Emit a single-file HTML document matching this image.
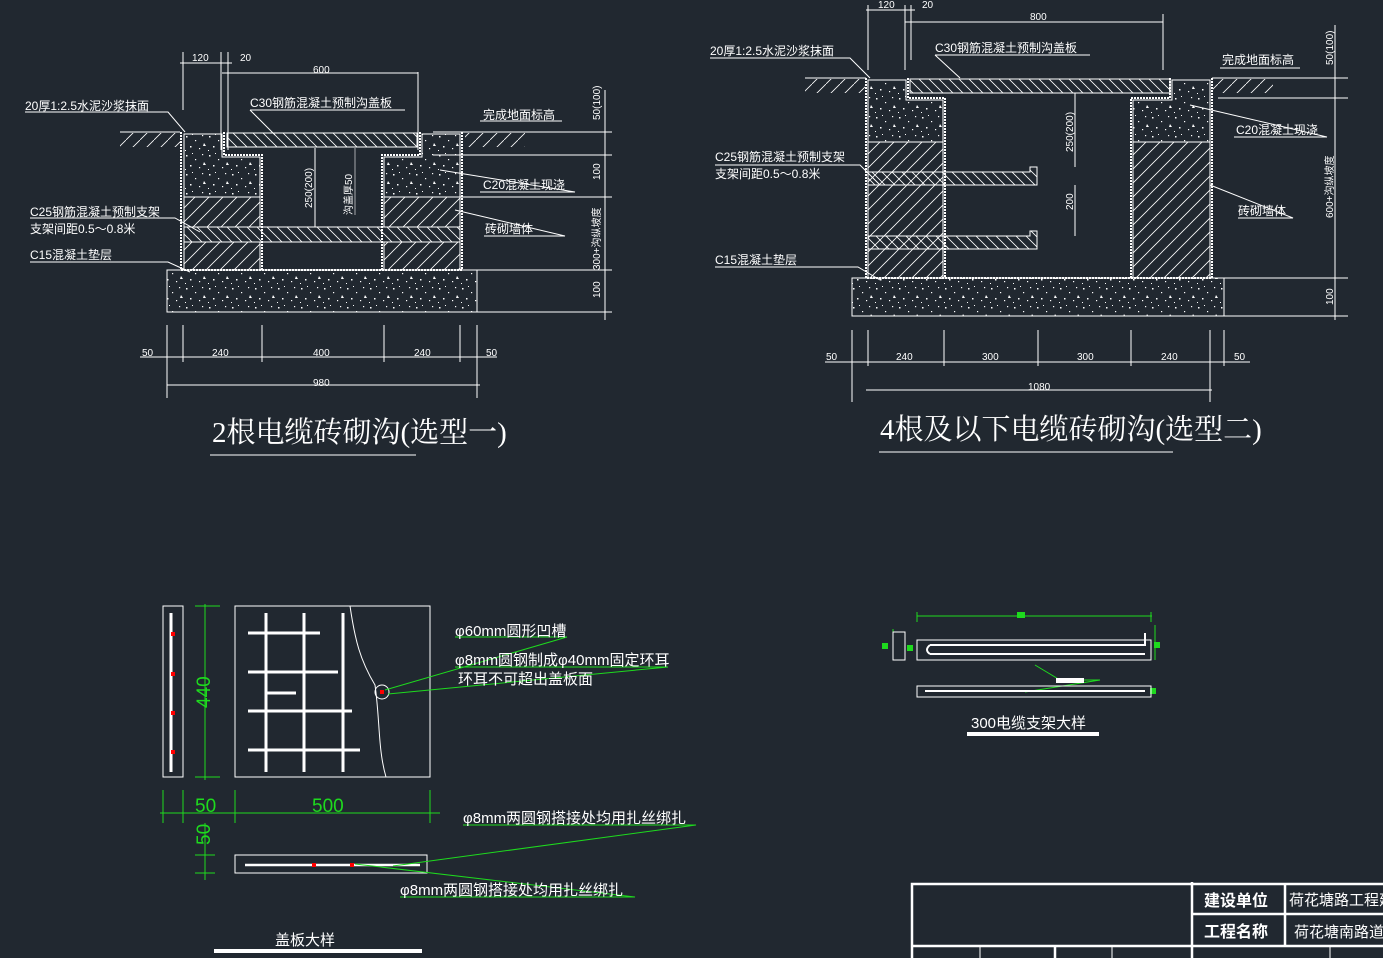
<!DOCTYPE html>
<html><head><meta charset="utf-8"><style>
html,body{margin:0;padding:0;background:#212830;}
svg{display:block}
text{font-family:"Liberation Sans","Noto Sans CJK SC",sans-serif;fill:#fff}
</style></head><body>
<svg width="1383" height="958" viewBox="0 0 1383 958" xmlns="http://www.w3.org/2000/svg">
<defs>
<pattern id="hat" width="14" height="14" patternUnits="userSpaceOnUse"><path d="M0 14L14 0M-2 2L2 -2M12 16L16 12" stroke="#fff" stroke-width="0.8"/></pattern>
<pattern id="hat2" width="10" height="10" patternUnits="userSpaceOnUse"><path d="M0 0L10 10M-2 8L2 12M8 -2L12 2" stroke="#fff" stroke-width="0.8"/></pattern>
<pattern id="dot" width="23" height="19" patternUnits="userSpaceOnUse"><g fill="#fff"><rect x="2" y="3" width="1.5" height="1.5"/><rect x="11" y="7" width="1.2" height="1.2"/><rect x="18" y="2" width="1.2" height="1.2"/><rect x="6" y="13" width="1.5" height="1.5"/><rect x="15" y="15" width="1.2" height="1.2"/><path d="M20 10l2 3h-3z"/><rect x="8" y="1" width="1" height="1"/><rect x="1" y="17" width="1" height="1"/></g></pattern>
<pattern id="gnd" width="14" height="14" patternUnits="userSpaceOnUse"><path d="M0 14L14 0" stroke="#fff" stroke-width="0.8"/></pattern>
</defs>
<g stroke="#fff" fill="none" stroke-width="1">
<rect x="120" y="133" width="60" height="14" fill="url(#gnd)" stroke="none"/>
<rect x="465" y="133" width="60" height="14" fill="url(#gnd)" stroke="none"/>
<line x1="120" y1="132" x2="180" y2="132"/><line x1="464" y1="132" x2="524" y2="132"/>
<rect x="167" y="270" width="310" height="42" fill="url(#dot)"/>
<path d="M181 132V270H462V132" stroke-width="2" stroke-dasharray="2 1"/>
<path d="M224 132V155H262V270M382 270V155H420V132" stroke-width="2" stroke-dasharray="2 1"/>
<path d="M184 134H222V157H260V197H184Z" fill="url(#dot)"/>
<path d="M460 134H422V157H384V197H460Z" fill="url(#dot)"/>
<rect x="184" y="197" width="76" height="30" fill="url(#hat)"/>
<rect x="384" y="197" width="76" height="30" fill="url(#hat)"/>
<rect x="184" y="242" width="76" height="28" fill="url(#hat)"/>
<rect x="384" y="242" width="76" height="28" fill="url(#hat)"/>
<rect x="184" y="227" width="276" height="15" fill="url(#hat2)"/>
<rect x="227" y="133" width="190" height="14" fill="url(#hat2)"/>
<line x1="315" y1="148" x2="315" y2="227"/><line x1="355" y1="148" x2="355" y2="215" stroke-width="0.6"/>
<path d="M183 52V110M221 52V150M228 52V150M418 72V150M180 63H232M222 73H418"/>
<path d="M167 325V398M183 325V362M262 325V362M384 325V362M460 325V362M477 325V398M140 357H497M167 385H480"/>
<path d="M433 132H612M433 155H612M430 197H612M430 270H612M430 312H612M605 90V320"/>
<path d="M25 112H168L185 132M250 110H405M250 110L275 135M480 121H562M480 192H575L440 170M484 236H565L455 210M30 218H175L200 232M30 262H168L190 272"/>
<rect x="805" y="79" width="60" height="14" fill="url(#gnd)" stroke="none"/>
<rect x="1213" y="79" width="60" height="14" fill="url(#gnd)" stroke="none"/>
<line x1="805" y1="78" x2="866" y2="78"/><line x1="1212" y1="78" x2="1273" y2="78"/>
<rect x="852" y="278" width="372" height="38" fill="url(#dot)"/>
<path d="M866 78V278H1212V78" stroke-width="2" stroke-dasharray="2 1"/>
<path d="M908 78V98H945V278M1131 278V98H1170V78" stroke-width="2" stroke-dasharray="2 1"/>
<path d="M868 80H906V100H943V142H868Z" fill="url(#dot)"/>
<path d="M1210 80H1172V100H1133V142H1210Z" fill="url(#dot)"/>
<rect x="868" y="142" width="75" height="136" fill="url(#hat)"/>
<rect x="1133" y="142" width="77" height="136" fill="url(#hat)"/>
<rect x="910" y="79" width="260" height="14" fill="url(#hat2)"/>
<path d="M868 172H1030V167H1037V185H868Z" fill="url(#hat2)"/>
<path d="M868 236H1030V231H1037V249H868Z" fill="url(#hat2)"/>
<path d="M1075 93V167M1075 185V236"/>
<path d="M868 5V70M905 5V70M911 5V60M1163 14V70M866 10H915M905 22H1163"/>
<path d="M852 330V402M868 330V366M944 330V366M1038 330V366M1131 330V366M1210 330V402M1224 330V366M825 362H1250M866 390H1212"/>
<path d="M1218 78H1348M1218 98H1348M1218 278H1348M1218 316H1348M1335 25V320"/>
<path d="M710 58H850L870 78M935 55H1090M935 55L960 78M1220 68H1300M1234 137H1327L1190 105M1238 218H1293L1210 185M715 165H860L880 185M715 267H858L880 280"/>
<rect x="163" y="606" width="20" height="171"/>
<rect x="235" y="606" width="195" height="171"/>
<g stroke-width="3">
<path d="M171 613V772M248 633H320M248 672H338M248 711H352M248 750H360M265 693H296M266 613V772M304 613V772M343 613V772"/>
</g>
<path d="M350 606C355 640 360 660 375 685C380 720 378 750 386 777"/>
<circle cx="382" cy="692" r="7"/>
<rect x="235" y="855" width="192" height="18"/>
<path d="M245 865H420" stroke-width="2.5"/>
</g>
<g stroke="#1eda1e" fill="none" stroke-width="1">
<path d="M205 604V780M195 606H220M195 777H220M163 790V823M183 790V823M235 790V823M430 790V823M160 813H440M205 823V880M195 855H215M195 873H215"/>
<path d="M455 637H567L385 690M455 667H668L388 694M463 825H696L393 866M400 897H635L355 864"/>
<path d="M917 616H1152M917 612V622M1151 612V622M893 629V660M1155 625V660M1035 665L1060 680H1100L1025 692"/>
</g>
<g fill="#f00"><rect x="171" y="632" width="4" height="4"/><rect x="171" y="672" width="4" height="4"/><rect x="171" y="711" width="4" height="4"/><rect x="171" y="750" width="4" height="4"/><rect x="312" y="863" width="4" height="4"/><rect x="350" y="863" width="4" height="4"/><rect x="380" y="690" width="4" height="4"/></g>
<g fill="#1eda1e"><rect x="1017" y="612" width="8" height="6"/><rect x="882" y="643" width="6" height="6"/><rect x="907" y="645" width="6" height="6"/><rect x="1154" y="642" width="6" height="6"/><rect x="1150" y="688" width="6" height="6"/></g>
<g stroke="#fff" fill="none">
<rect x="917" y="640" width="234" height="20"/>
<rect x="893" y="632" width="12" height="28"/>
<path d="M930 645H1145V633M930 654H1145M930 645Q924 650 930 654" stroke-width="2"/>
<rect x="917" y="686" width="234" height="11"/>
<path d="M925 691H1145" stroke-width="2"/>
</g>
<rect x="1056" y="678" width="28" height="5" fill="#fff"/>
<g stroke="#fff" fill="none" stroke-width="2.5">
<path d="M912 958V884H1383M1192 882V958M1192 914H1383M912 946H1383M1055 946V958M1285 884V946"/>
</g>
<g stroke="#fff" stroke-width="1"><path d="M980 946V958M1112 946V958M1330 946V958"/></g>
<g font-size="12">
<text x="192" y="61" font-size="10">120</text><text x="240" y="61" font-size="10">20</text><text x="313" y="73" font-size="10">600</text>
<text x="25" y="110">20厚1:2.5水泥沙浆抹面</text>
<text x="250" y="107">C30钢筋混凝土预制沟盖板</text>
<text x="483" y="119">完成地面标高</text>
<text x="483" y="189">C20混凝土现浇</text>
<text x="485" y="233">砖砌墙体</text>
<text x="30" y="216">C25钢筋混凝土预制支架</text>
<text x="30" y="233">支架间距0.5～0.8米</text>
<text x="30" y="259">C15混凝土垫层</text>
<text x="142" y="356" font-size="10">50</text><text x="212" y="356" font-size="10">240</text><text x="313" y="356" font-size="10">400</text><text x="414" y="356" font-size="10">240</text><text x="486" y="356" font-size="10">50</text><text x="313" y="386" font-size="10">980</text>
<text x="600" y="120" font-size="10" transform="rotate(-90 600 120)">50(100)</text>
<text x="600" y="180" font-size="10" transform="rotate(-90 600 180)">100</text>
<text x="600" y="270" font-size="10" transform="rotate(-90 600 270)">300+沟纵坡度</text>
<text x="600" y="298" font-size="10" transform="rotate(-90 600 298)">100</text>
<text x="312" y="208" font-size="10" transform="rotate(-90 312 208)">250(200)</text>
<text x="352" y="215" font-size="10" transform="rotate(-90 352 215)">沟盖厚50</text>
<text x="878" y="8" font-size="10">120</text><text x="922" y="8" font-size="10">20</text><text x="1030" y="20" font-size="10">800</text>
<text x="710" y="55">20厚1:2.5水泥沙浆抹面</text>
<text x="935" y="52">C30钢筋混凝土预制沟盖板</text>
<text x="1222" y="64">完成地面标高</text>
<text x="1236" y="134">C20混凝土现浇</text>
<text x="1238" y="215">砖砌墙体</text>
<text x="715" y="161">C25钢筋混凝土预制支架</text>
<text x="715" y="178">支架间距0.5～0.8米</text>
<text x="715" y="264">C15混凝土垫层</text>
<text x="826" y="360" font-size="10">50</text><text x="896" y="360" font-size="10">240</text><text x="982" y="360" font-size="10">300</text><text x="1077" y="360" font-size="10">300</text><text x="1161" y="360" font-size="10">240</text><text x="1234" y="360" font-size="10">50</text><text x="1028" y="390" font-size="10">1080</text>
<text x="1333" y="65" font-size="10" transform="rotate(-90 1333 65)">50(100)</text>
<text x="1333" y="218" font-size="10" transform="rotate(-90 1333 218)">600+沟纵坡度</text>
<text x="1333" y="305" font-size="10" transform="rotate(-90 1333 305)">100</text>
<text x="1073" y="152" font-size="10" transform="rotate(-90 1073 152)">250(200)</text>
<text x="1073" y="210" font-size="10" transform="rotate(-90 1073 210)">200</text>
</g>
<text x="212" y="442" font-size="29" style='font-family:"Liberation Serif","Noto Serif CJK SC",serif'>2根电缆砖砌沟(选型一)</text>
<line x1="210" y1="455" x2="416" y2="455" stroke="#fff"/>
<text x="880" y="439" font-size="29" style='font-family:"Liberation Serif","Noto Serif CJK SC",serif'>4根及以下电缆砖砌沟(选型二)</text>
<line x1="879" y1="452" x2="1173" y2="452" stroke="#fff"/>
<g font-size="15">
<text x="455" y="636">φ60mm圆形凹槽</text>
<text x="455" y="665">φ8mm圆钢制成φ40mm固定环耳</text>
<text x="458" y="684">环耳不可超出盖板面</text>
<text x="463" y="823">φ8mm两圆钢搭接处均用扎丝绑扎</text>
<text x="400" y="895">φ8mm两圆钢搭接处均用扎丝绑扎</text>
<text x="275" y="945">盖板大样</text>
<text x="971" y="728">300电缆支架大样</text>
</g>
<g font-size="19">
<text x="195" y="812" style="fill:#1eda1e">50</text>
<text x="312" y="812" style="fill:#1eda1e">500</text>
<text x="210" y="708" transform="rotate(-90 210 708)" style="fill:#1eda1e">440</text>
<text x="210" y="845" transform="rotate(-90 210 845)" style="fill:#1eda1e">50</text>
</g>
<rect x="214" y="949" width="208" height="4" fill="#fff"/>
<rect x="967" y="732" width="132" height="4" fill="#fff"/>
<g font-size="16" font-weight="bold"><text x="1204" y="906">建设单位</text><text x="1204" y="937">工程名称</text></g>
<g font-size="15"><text x="1289" y="905">荷花塘路工程建</text><text x="1294" y="937">荷花塘南路道</text></g>
</svg>
</body></html>
